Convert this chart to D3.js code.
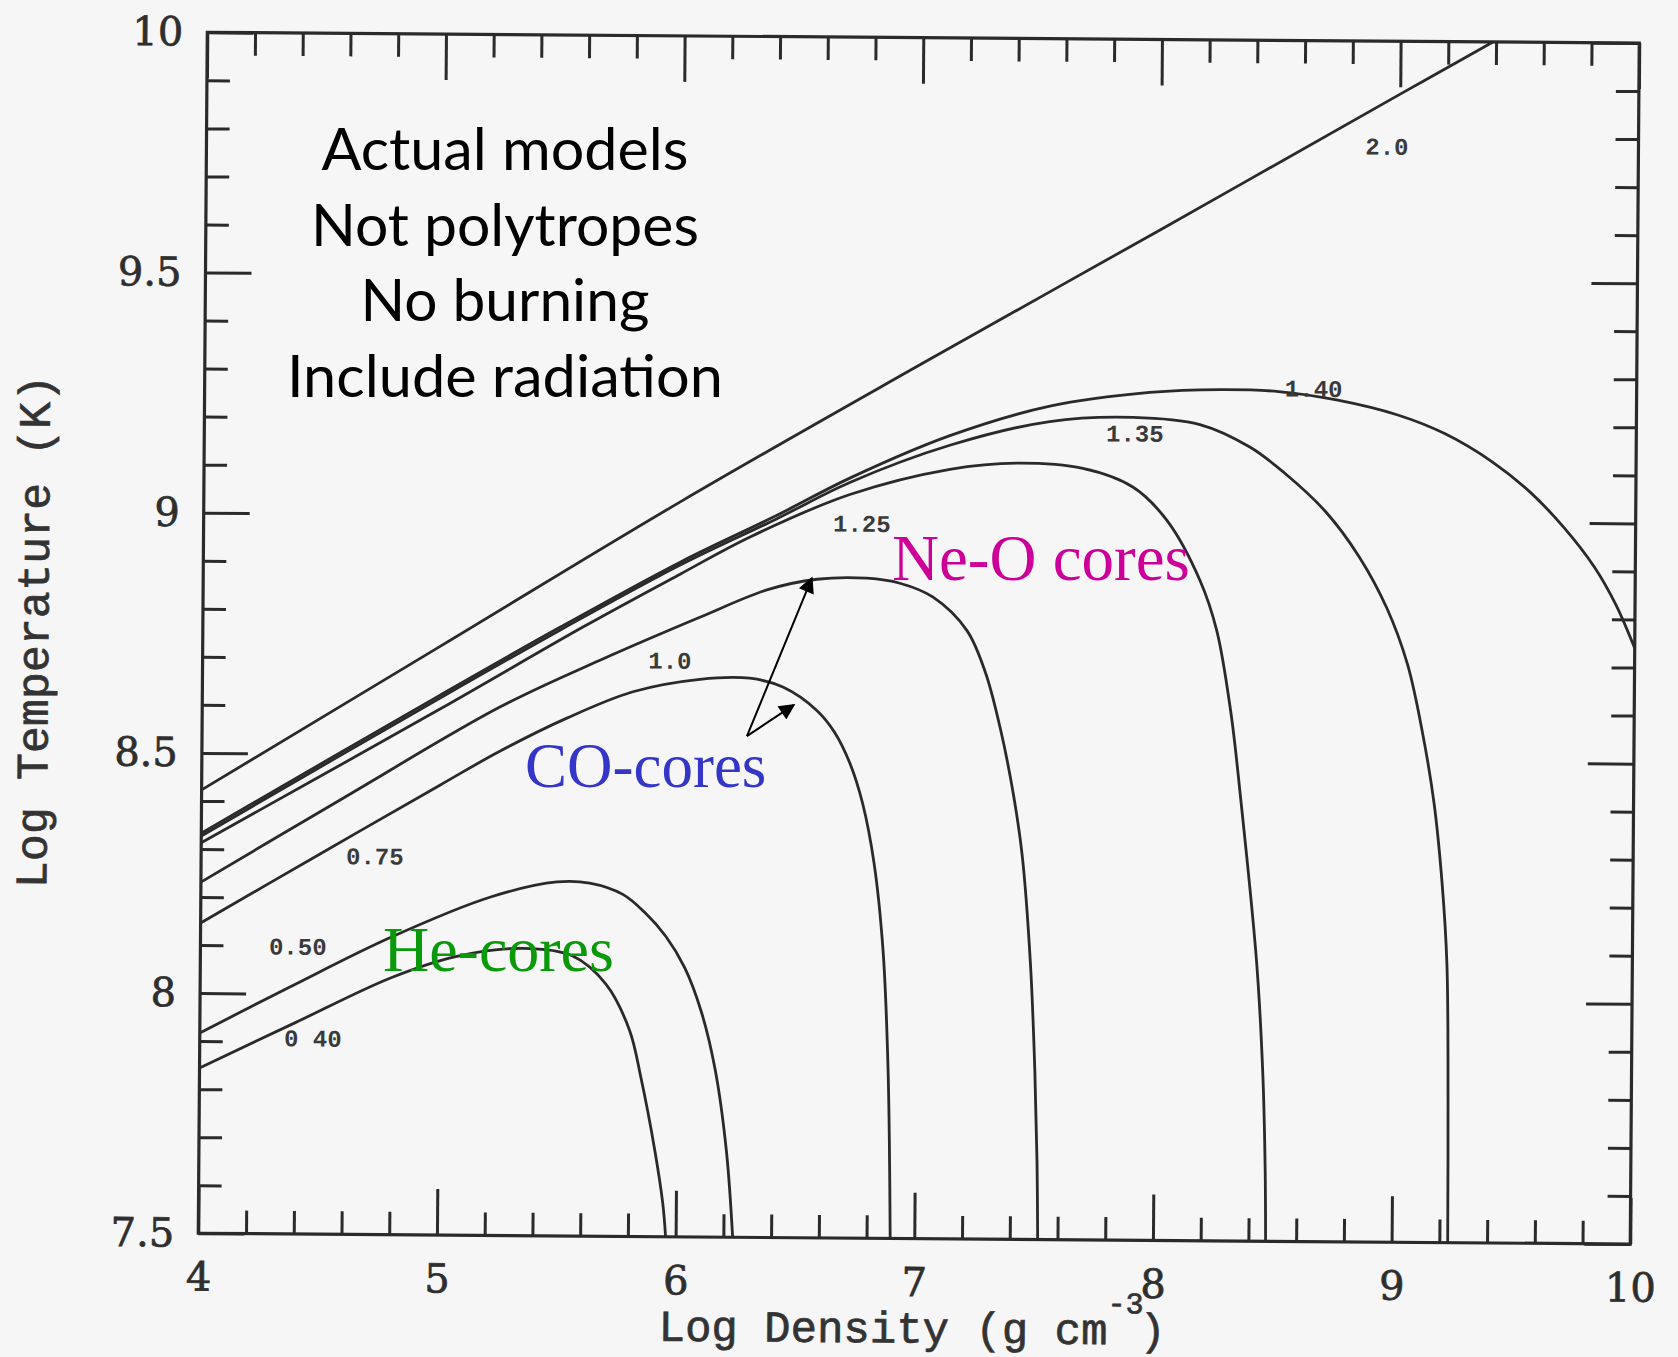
<!DOCTYPE html>
<html><head><meta charset="utf-8">
<script src="https://cdn.jsdelivr.net/npm/d3@7"></script>
<style>
html,body{margin:0;padding:0;background:#f6f6f6;}
svg{display:block;}
</style></head><body>
<svg id="chart" width="1678" height="1357"></svg>
<script>
// ---------------- data ----------------
const xTickValues = [4, 5, 6, 7, 8, 9, 10];
const xTickLabels = ["4", "5", "6", "7", "8", "9", "10"];
const yTickValues = [7.5, 8, 8.5, 9, 9.5, 10];
const yTickLabels = ["7.5", "8", "8.5", "9", "9.5", "10"];

// [log density, log temperature]
const curve040 = [[4,7.844],[4.4,7.94],[4.8,8.035],[5.07,8.08],[5.35,8.098],[5.56,8.083],[5.70,8.025],[5.80,7.93],[5.85,7.83],[5.91,7.68],[5.945,7.57],[5.958,7.5]];
const curve050 = [[4,7.917],[4.376,8.014],[4.793,8.118],[5.211,8.204],[5.491,8.237],[5.629,8.235],[5.768,8.212],[5.86,8.175],[5.95,8.125],[6.03,8.06],[6.1,7.97],[6.16,7.85],[6.21,7.68],[6.239,7.5]];
const curve075 = [[4,8.146],[4.5,8.292],[5.0,8.437],[5.248,8.508],[5.528,8.578],[5.804,8.634],[6.084,8.661],[6.293,8.664],[6.432,8.646],[6.575,8.598],[6.65,8.553],[6.715,8.489],[6.77,8.405],[6.82,8.28],[6.86,8.1],[6.885,7.85],[6.899,7.5]];
const curve100 = [[4,8.231],[4.6,8.41],[5.247,8.6],[5.665,8.699],[6.082,8.79],[6.362,8.848],[6.571,8.871],[6.78,8.874],[6.919,8.864],[7.057,8.836],[7.201,8.767],[7.28,8.68],[7.346,8.56],[7.40,8.43],[7.44,8.30],[7.478,8.075],[7.50,7.85],[7.512,7.66],[7.517,7.5]];
const curve125 = [[4,8.313],[5,8.596],[5.6,8.77],[6,8.88],[6.29,8.958],[6.707,9.048],[7.125,9.102],[7.405,9.116],[7.682,9.106],[7.892,9.068],[8.036,8.999],[8.176,8.875],[8.248,8.771],[8.31,8.6],[8.354,8.42],[8.426,8.079],[8.455,7.85],[8.468,7.65],[8.472,7.5]];
const curve135 = [[4,8.327],[5,8.619],[5.5,8.762],[6,8.899],[6.4,8.996],[6.706,9.073],[7.124,9.152],[7.542,9.203],[7.89,9.213],[8.171,9.199],[8.381,9.153],[8.526,9.1],[8.7,9.02],[8.843,8.926],[8.96,8.82],[9.048,8.704],[9.11,8.57],[9.164,8.415],[9.2,8.25],[9.223,8.081],[9.232,7.8],[9.235,7.5]];
const curve140 = [[4,8.333],[5,8.625],[5.5,8.768],[6,8.905],[6.4,9.003],[6.706,9.082],[7.124,9.172],[7.542,9.235],[7.96,9.265],[8.254,9.272],[8.5,9.269],[8.748,9.252],[9.0,9.222],[9.197,9.184],[9.4,9.125],[9.558,9.063],[9.7,8.99],[9.829,8.908],[9.92,8.83],[10,8.74]];
const curve200 = [[4,8.423],[5,8.727],[6,9.031],[7,9.32],[8,9.604],[9,9.89],[9.387,10]];

const curveNames = ["0 40", "0.50", "0.75", "1.0", "1.25", "1.35", "1.40", "2.0"];
const curveLabelX = [4.474, 4.408, 4.728, 5.958, 6.758, 7.899, 8.647, 8.946];
const curveLabelY = [7.904, 8.095, 8.284, 8.696, 8.984, 9.176, 9.272, 9.777];

const noteLines = ["Actual models", "Not polytropes", "No burning", "Include radiation"];
const coreNames = ["He-cores", "CO-cores", "Ne-O cores"];
const coreX = [4.736, 5.331, 6.869];
const coreY = [8.046, 8.429, 8.860];
const arrowTail = [6.261, 8.535];
const arrowHeads = [[6.533, 8.864], [6.458, 8.600]];

// ---------------- layout ----------------
const ORIGIN = [207.3, 32.3], W = 1432, H = 1201, TILT = 0.43;
const ink = "#2a2a2a";
const svg = d3.select("#chart");

const x = d3.scaleLinear().domain([4, 10]).range([0, W]);
const y = d3.scaleLinear().domain([7.5, 10]).range([H, 0]);

const g = svg.append("g").attr("transform", `translate(${ORIGIN[0]},${ORIGIN[1]}) rotate(${TILT})`);

const minorX = d3.range(4, 10.0001, 0.2).map(v => +v.toFixed(2)).filter(v => Math.abs(v - Math.round(v)) > 1e-6);
const minorY = d3.range(7.5, 10.0001, 0.1).map(v => +v.toFixed(2)).filter(v => Math.abs(v * 2 - Math.round(v * 2)) > 1e-6);

function styleAxis(sel) {
  sel.select(".domain").remove();
  sel.selectAll(".tick line").attr("stroke", ink).attr("stroke-width", 3);
}
const tickFont = "'DejaVu Serif', serif";
function styleLabels(s) {
  s.selectAll("text").attr("font-family", tickFont).attr("font-size", 40)
    .attr("fill", "#2e2e2e").attr("stroke", "#2e2e2e").attr("stroke-width", 0.7);
}
// bottom
g.append("g").attr("transform", `translate(0,${H})`)
  .call(d3.axisBottom(x).tickValues(minorX).tickSizeInner(-23).tickSizeOuter(0).tickFormat(""))
  .call(styleAxis);
g.append("g").attr("transform", `translate(0,${H})`)
  .call(d3.axisBottom(x).tickValues(xTickValues).tickSizeInner(-46).tickSizeOuter(0).tickPadding(29)
    .tickFormat((d, i) => xTickLabels[i]))
  .call(styleAxis).call(styleLabels);
// top
g.append("g")
  .call(d3.axisTop(x).tickValues(minorX).tickSizeInner(-23).tickSizeOuter(0).tickFormat(""))
  .call(styleAxis);
g.append("g")
  .call(d3.axisTop(x).tickValues(xTickValues).tickSizeInner(-46).tickSizeOuter(0).tickFormat(""))
  .call(styleAxis);
// left
g.append("g")
  .call(d3.axisLeft(y).tickValues(minorY).tickSizeInner(-23).tickSizeOuter(0).tickFormat(""))
  .call(styleAxis);
g.append("g")
  .call(d3.axisLeft(y).tickValues(yTickValues).tickSizeInner(-46).tickSizeOuter(0).tickPadding(24)
    .tickFormat((d, i) => yTickLabels[i]))
  .call(styleAxis).call(styleLabels);
// right
g.append("g").attr("transform", `translate(${W},0)`)
  .call(d3.axisRight(y).tickValues(minorY).tickSizeInner(-23).tickSizeOuter(0).tickFormat(""))
  .call(styleAxis);
g.append("g").attr("transform", `translate(${W},0)`)
  .call(d3.axisRight(y).tickValues(yTickValues).tickSizeInner(-46).tickSizeOuter(0).tickFormat(""))
  .call(styleAxis);

// frame
g.append("rect").attr("x", 0).attr("y", 0).attr("width", W).attr("height", H)
  .attr("fill", "none").attr("stroke", ink).attr("stroke-width", 3.2);

// curves
const line = d3.line().x(d => x(d[0])).y(d => y(d[1])).curve(d3.curveCatmullRom.alpha(0.5));
const curves = [curve040, curve050, curve075, curve100, curve125, curve135, curve140, curve200];
g.append("g").selectAll("path").data(curves).join("path")
  .attr("d", line).attr("fill", "none").attr("stroke", ink).attr("stroke-width", 2.8)
  .attr("stroke-linejoin", "round");

// curve labels
const monoFont = "'Liberation Mono', 'DejaVu Sans Mono', monospace";
g.append("g").selectAll("text").data(curveNames).join("text")
  .attr("x", (d, i) => x(curveLabelX[i])).attr("y", (d, i) => y(curveLabelY[i]))
  .attr("text-anchor", "middle").attr("dominant-baseline", "central")
  .attr("font-family", monoFont).attr("font-weight", "bold").attr("font-size", 24)
  .attr("fill", "#3a3a3a").text(d => d);

// axis titles
const xt = g.append("text").attr("x", 461).attr("y", H + 104)
  .attr("font-family", monoFont).attr("font-size", 44).attr("fill", "#333")
  .attr("stroke", "#333").attr("stroke-width", 0.7);
xt.append("tspan").text("Log Density (g cm");
xt.append("tspan").attr("dy", -31).attr("font-size", 30).text("-3");
xt.append("tspan").attr("dy", 31).attr("dx", -4).text(")");

g.append("text").attr("transform", `translate(-166,${H / 2}) rotate(-90)`)
  .attr("text-anchor", "middle").attr("dominant-baseline", "central")
  .attr("font-family", monoFont).attr("font-size", 45).attr("fill", "#333")
  .attr("stroke", "#333").attr("stroke-width", 0.7)
  .text("Log Temperature (K)");

// ---------------- overlay annotations (not tilted) ----------------
const xo = d3.scaleLinear().domain([4, 10]).range([ORIGIN[0], ORIGIN[0] + W]);
const yo = d3.scaleLinear().domain([7.5, 10]).range([ORIGIN[1] + H, ORIGIN[1]]);
const ov = svg.append("g");

const noteWidths = [367, 388, 289, 436];
ov.append("g").selectAll("text").data(noteLines).join("text")
  .attr("x", xo(5.247)).attr("y", (d, i) => yo(9.713) + i * 75.5)
  .attr("text-anchor", "middle").attr("font-family", "Lato, 'Open Sans', sans-serif")
  .attr("font-size", 58).attr("fill", "#000")
  .attr("textLength", (d, i) => noteWidths[i]).attr("lengthAdjust", "spacingAndGlyphs")
  .text(d => d);

const coreColors = ["#0a990a", "#3535c8", "#cc0099"];
const coreSizes = [64, 63, 65];
ov.append("g").selectAll("text").data(coreNames).join("text")
  .attr("x", (d, i) => xo(coreX[i])).attr("y", (d, i) => yo(coreY[i]))
  .attr("font-family", "'Liberation Serif', 'Times New Roman', serif")
  .attr("font-size", (d, i) => coreSizes[i]).attr("fill", (d, i) => coreColors[i])
  .text(d => d);

svg.append("defs").append("marker").attr("id", "ah")
  .attr("viewBox", "0 0 10 10").attr("refX", 9).attr("refY", 5)
  .attr("markerWidth", 20).attr("markerHeight", 16).attr("markerUnits", "userSpaceOnUse")
  .attr("orient", "auto")
  .append("path").attr("d", "M0,0 L10,5 L0,10 Z").attr("fill", "#000");

ov.append("g").selectAll("line").data(arrowHeads).join("line")
  .attr("x1", xo(arrowTail[0])).attr("y1", yo(arrowTail[1]))
  .attr("x2", d => xo(d[0])).attr("y2", d => yo(d[1]))
  .attr("stroke", "#000").attr("stroke-width", 2).attr("marker-end", "url(#ah)");
</script>
</body></html>
